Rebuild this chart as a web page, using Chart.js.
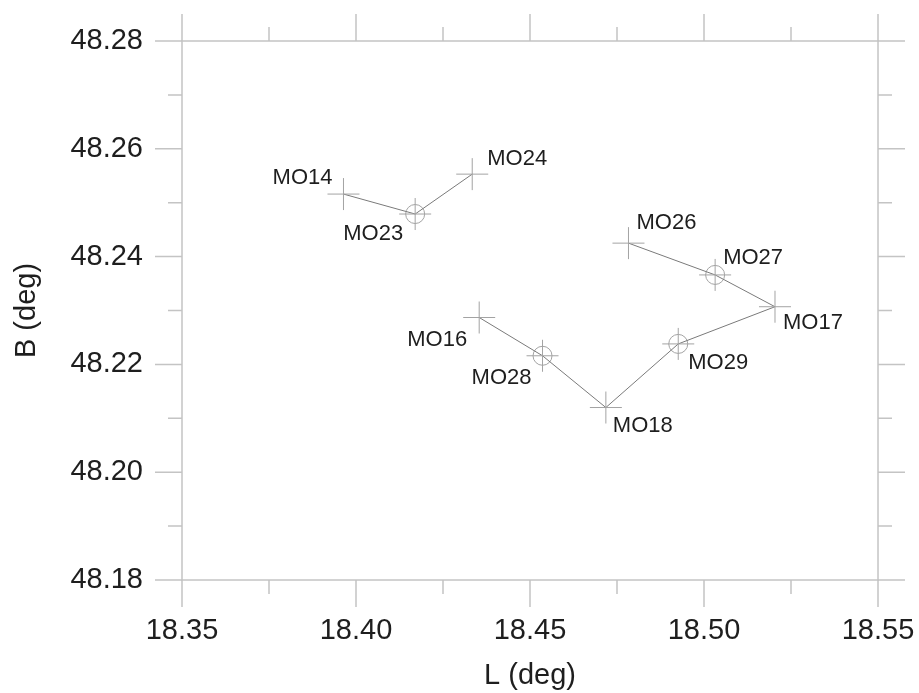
<!DOCTYPE html>
<html>
<head>
<meta charset="utf-8">
<script src="https://cdn.jsdelivr.net/npm/chart.js@4"></script>
<style>
  html, body { margin: 0; padding: 0; background: #ffffff; }
  #c { display: block; }
</style>
</head>
<body>
<canvas id="c" width="919" height="693"></canvas>
<script>
// ---- data ----
const trackANames = ['MO14', 'MO23', 'MO24'];
const trackAL = [18.3964, 18.4170, 18.4334];
const trackAB = [48.2516, 48.2479, 48.2553];

const trackBNames = ['MO26', 'MO27', 'MO17', 'MO29', 'MO18', 'MO28', 'MO16'];
const trackBL = [18.4783, 18.5032, 18.5204, 18.4926, 18.4718, 18.4536, 18.4354];
const trackBB = [48.2425, 48.2366, 48.2307, 48.2238, 48.2120, 48.2216, 48.2287];

const circledNames = ['MO23', 'MO27', 'MO29', 'MO28'];

const xMajorTicks = [18.35, 18.40, 18.45, 18.50, 18.55];
const xMinorTicks = [18.375, 18.425, 18.475, 18.525];
const yMajorTicks = [48.18, 48.20, 48.22, 48.24, 48.26, 48.28];
const yMinorTicks = [48.19, 48.21, 48.23, 48.25, 48.27];

// ---- label placement (style, not data) ----
const labelPlacement = {
  MO14: [-11, -16, 'right'],
  MO23: [-12, 20, 'right'],
  MO24: [15, -15, 'left'],
  MO26: [8, -20, 'left'],
  MO27: [8, -17, 'left'],
  MO17: [8, 16, 'left'],
  MO29: [10, 19, 'left'],
  MO18: [7, 18, 'left'],
  MO28: [-11, 22, 'right'],
  MO16: [-12, 22, 'right']
};

const FONT = "'Liberation Sans', Arial, Helvetica, sans-serif";
const frameColor = '#c4c4c4';

function toPoints(Ls, Bs) { return Ls.map((l, i) => ({ x: l, y: Bs[i] })); }
const allNames = trackANames.concat(trackBNames);
const allPts = toPoints(trackAL, trackAB).concat(toPoints(trackBL, trackBB));
const circlePts = circledNames.map(n => allPts[allNames.indexOf(n)]);

const framePlugin = {
  id: 'frameTicks',
  beforeDatasetsDraw(chart) {
    const { ctx, chartArea: a, scales: { x, y } } = chart;
    ctx.save();
    ctx.strokeStyle = frameColor;
    ctx.lineWidth = 1.5;
    ctx.strokeRect(a.left, a.top, a.right - a.left, a.bottom - a.top);
    ctx.beginPath();
    const MAJ = 27, MIN = 14;
    xMajorTicks.forEach(v => {
      const px = x.getPixelForValue(v);
      ctx.moveTo(px, a.bottom); ctx.lineTo(px, a.bottom + MAJ);
      ctx.moveTo(px, a.top); ctx.lineTo(px, a.top - MAJ);
    });
    xMinorTicks.forEach(v => {
      const px = x.getPixelForValue(v);
      ctx.moveTo(px, a.bottom); ctx.lineTo(px, a.bottom + MIN);
      ctx.moveTo(px, a.top); ctx.lineTo(px, a.top - MIN);
    });
    yMajorTicks.forEach(v => {
      const py = y.getPixelForValue(v);
      ctx.moveTo(a.left, py); ctx.lineTo(a.left - MAJ, py);
      ctx.moveTo(a.right, py); ctx.lineTo(a.right + MAJ, py);
    });
    yMinorTicks.forEach(v => {
      const py = y.getPixelForValue(v);
      ctx.moveTo(a.left, py); ctx.lineTo(a.left - MIN, py);
      ctx.moveTo(a.right, py); ctx.lineTo(a.right + MIN, py);
    });
    ctx.stroke();
    ctx.restore();
  }
};

const labelPlugin = {
  id: 'pointLabels',
  afterDatasetsDraw(chart) {
    const { ctx } = chart;
    ctx.save();
    ctx.font = '22px ' + FONT;
    ctx.fillStyle = '#1e1e1e';
    ctx.textBaseline = 'middle';
    [0, 1].forEach(di => {
      const names = di === 0 ? trackANames : trackBNames;
      chart.getDatasetMeta(di).data.forEach((el, i) => {
        const p = labelPlacement[names[i]];
        ctx.textAlign = p[2];
        ctx.fillText(names[i], el.x + p[0], el.y + p[1]);
      });
    });
    ctx.restore();
  }
};

const lineStyle = {
  showLine: true,
  borderColor: '#7a7a7a',
  borderWidth: 1,
  pointStyle: 'cross',
  pointRadius: 16,
  pointHoverRadius: 16,
  pointBorderColor: '#a3a3a3',
  pointBorderWidth: 1,
  backgroundColor: 'transparent'
};

new Chart(document.getElementById('c'), {
  type: 'scatter',
  data: {
    datasets: [
      Object.assign({ label: 'Track A', data: toPoints(trackAL, trackAB) }, lineStyle),
      Object.assign({ label: 'Track B', data: toPoints(trackBL, trackBB) }, lineStyle),
      {
        label: 'Circled',
        data: circlePts,
        showLine: false,
        pointStyle: 'circle',
        pointRadius: 9.5,
        pointHoverRadius: 9.5,
        pointBorderColor: '#a3a3a3',
        pointBorderWidth: 1,
        pointBackgroundColor: 'transparent'
      }
    ]
  },
  options: {
    responsive: false,
    animation: false,
    events: [],
    layout: { padding: { top: 41, right: 41, left: 0, bottom: 0 } },
    plugins: { legend: { display: false }, tooltip: { enabled: false } },
    scales: {
      x: {
        type: 'linear',
        min: 18.35, max: 18.55,
        afterBuildTicks: s => { s.ticks = xMajorTicks.map(v => ({ value: v })); },
        afterFit: s => { s.height = 113; s.paddingLeft = 0; s.paddingRight = 0; },
        grid: { display: false, drawTicks: false },
        border: { display: false },
        ticks: {
          padding: 34,
          color: '#1e1e1e',
          font: { family: FONT, size: 29 },
          maxRotation: 0,
          autoSkip: false,
          callback: v => Number(v).toFixed(2)
        },
        title: {
          display: true, text: 'L (deg)', color: '#1e1e1e',
          font: { family: FONT, size: 29 },
          padding: { top: 0, bottom: 0 }
        }
      },
      y: {
        type: 'linear',
        min: 48.18, max: 48.28,
        afterBuildTicks: s => { s.ticks = yMajorTicks.map(v => ({ value: v })); },
        afterFit: s => { s.width = 182; s.paddingTop = 0; s.paddingBottom = 0; },
        grid: { display: false, drawTicks: false },
        border: { display: false },
        ticks: {
          padding: 39,
          color: '#1e1e1e',
          font: { family: FONT, size: 29 },
          autoSkip: false,
          callback: v => Number(v).toFixed(2)
        },
        title: {
          display: true, text: 'B (deg)', color: '#1e1e1e',
          font: { family: FONT, size: 29 },
          padding: { top: 10, bottom: 0 }
        }
      }
    }
  },
  plugins: [framePlugin, labelPlugin]
});
</script>
</body>
</html>
